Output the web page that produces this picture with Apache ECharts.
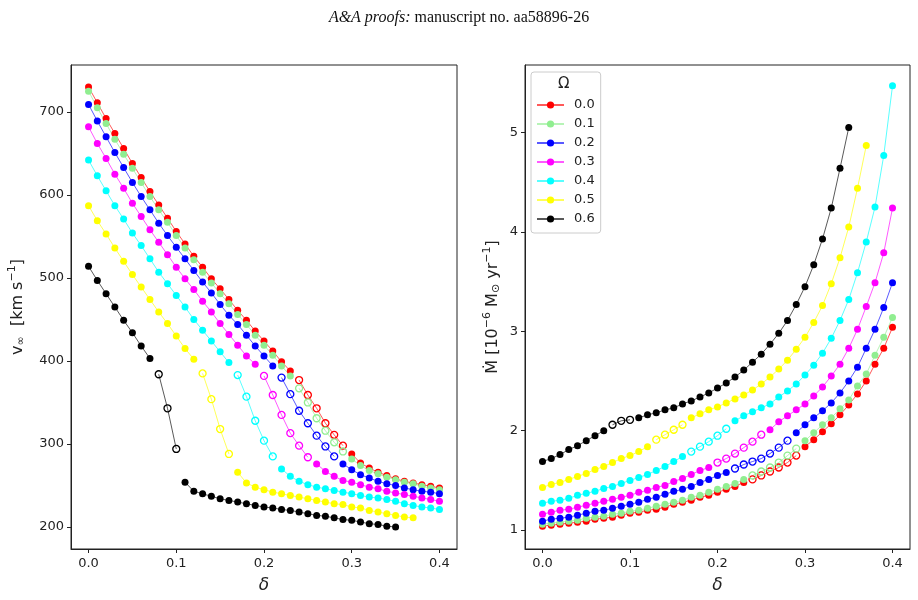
<!DOCTYPE html>
<html>
<head>
<meta charset="utf-8">
<script src="https://cdn.jsdelivr.net/npm/echarts@6/dist/echarts.min.js"></script>
<style>
html, body { margin: 0; padding: 0; background: #fff; }
#chart { width: 918px; height: 600px; }
</style>
</head>
<body>
<div id="chart"></div>
<script>
// delta grid shared by both panels
const delta = [0.00, 0.01, 0.02, 0.03, 0.04, 0.05, 0.06, 0.07, 0.08, 0.09,
    0.10, 0.11, 0.12, 0.13, 0.14, 0.15, 0.16, 0.17, 0.18, 0.19,
    0.20, 0.21, 0.22, 0.23, 0.24, 0.25, 0.26, 0.27, 0.28, 0.29,
    0.30, 0.31, 0.32, 0.33, 0.34, 0.35, 0.36, 0.37, 0.38, 0.39, 0.40]

const omegaLabels = ['0.0', '0.1', '0.2', '0.3', '0.4', '0.5', '0.6']
const colors = ['#ff0000', '#90ee90', '#0000ff', '#ff00ff', '#00ffff', '#ffff00', '#000000']

// index range of the open-circle points for each omega
const openStart = [24, 24, 22, 20, 17, 13, 8]
const openEnd = [29, 29, 28, 25, 21, 16, 10]

// terminal velocity [km/s]
const vinf00 = [730, 711, 692, 674, 656, 638, 621, 604, 588, 572, 556, 541, 526, 513, 499, 487, 474, 461, 449, 436,
    424, 412, 399, 388, 377, 359, 343, 325, 311, 298, 288, 277, 271, 266, 262, 258, 255, 253, 251, 249, 247]
const vinf01 = [725, 705, 686, 667, 649, 632, 615, 598, 582, 567, 551, 536, 522, 507, 494, 481, 469, 456, 444, 431,
    419, 407, 394, 382, 367, 350, 331, 316, 302, 291, 282, 274, 268, 264, 260, 257, 254, 252, 249, 247, 245]
const vinf02 = [709, 689, 670, 651, 633, 615, 598, 582, 566, 551, 537, 523, 509, 495, 482, 468, 455, 444, 431, 418,
    406, 394, 380, 360, 340, 325, 310, 297, 285, 276, 269, 263, 259, 255, 252, 250, 247, 245, 243, 242, 240]
const vinf03 = [682, 662, 644, 625, 608, 590, 574, 558, 543, 528, 513, 499, 486, 472, 459, 445, 432, 419, 406, 396,
    382, 359, 335, 313, 298, 284, 276, 267, 261, 256, 254, 251, 248, 246, 243, 241, 239, 237, 235, 233, 231]
const vinf04 = [642, 623, 605, 587, 571, 554, 539, 523, 507, 493, 479, 465, 450, 437, 424, 411, 398, 383, 357, 328,
    304, 285, 270, 261, 255, 251, 248, 246, 244, 242, 240, 238, 236, 235, 233, 231, 228, 226, 224, 223, 221]
const vinf05 = [587, 569, 553, 536, 520, 504, 489, 474, 459, 445, 430, 415, 402, 385, 354, 318, 288, 266, 253, 248,
    245, 242, 240, 238, 236, 234, 232, 230, 228, 227, 224, 223, 220, 218, 216, 214, 212, 211]
const vinf06 = [514, 497, 481, 465, 449, 434, 418, 403, 384, 343, 294, 254, 243, 240, 237, 234, 232, 230, 228, 226,
    224, 223, 221, 220, 218, 216, 214, 213, 211, 209, 208, 206, 204, 203, 201, 200]

// mass-loss rate [1e-6 Msun/yr]
const mdot00 = [1.04, 1.05, 1.06, 1.07, 1.08, 1.09, 1.11, 1.12, 1.13, 1.15, 1.17, 1.18, 1.20, 1.21, 1.23, 1.26, 1.28, 1.30, 1.33, 1.35,
    1.38, 1.41, 1.44, 1.48, 1.51, 1.55, 1.59, 1.63, 1.68, 1.75, 1.84, 1.91, 1.99, 2.07, 2.16, 2.26, 2.37, 2.50, 2.67, 2.83, 3.04]
const mdot01 = [1.06, 1.07, 1.08, 1.09, 1.10, 1.12, 1.13, 1.14, 1.16, 1.17, 1.19, 1.20, 1.22, 1.24, 1.26, 1.28, 1.30, 1.33, 1.35, 1.38,
    1.41, 1.44, 1.47, 1.51, 1.55, 1.59, 1.63, 1.68, 1.75, 1.82, 1.90, 1.98, 2.06, 2.13, 2.22, 2.31, 2.45, 2.57, 2.76, 2.94, 3.14]
const mdot02 = [1.09, 1.11, 1.12, 1.13, 1.15, 1.17, 1.19, 1.20, 1.22, 1.24, 1.26, 1.28, 1.31, 1.33, 1.36, 1.39, 1.41, 1.44, 1.48, 1.51,
    1.55, 1.58, 1.62, 1.66, 1.69, 1.72, 1.77, 1.83, 1.90, 1.98, 2.06, 2.13, 2.20, 2.28, 2.38, 2.50, 2.64, 2.83, 3.02, 3.24, 3.49]
const mdot03 = [1.16, 1.18, 1.20, 1.21, 1.23, 1.25, 1.27, 1.29, 1.31, 1.33, 1.35, 1.38, 1.40, 1.43, 1.45, 1.49, 1.52, 1.56, 1.60, 1.63,
    1.68, 1.72, 1.77, 1.83, 1.89, 1.96, 2.01, 2.09, 2.15, 2.21, 2.27, 2.35, 2.44, 2.55, 2.67, 2.83, 3.02, 3.25, 3.49, 3.79, 4.24]
const mdot04 = [1.27, 1.29, 1.30, 1.32, 1.35, 1.37, 1.39, 1.42, 1.44, 1.47, 1.50, 1.53, 1.56, 1.60, 1.64, 1.69, 1.74, 1.79, 1.84, 1.89,
    1.95, 2.02, 2.10, 2.15, 2.19, 2.23, 2.27, 2.34, 2.40, 2.47, 2.56, 2.66, 2.78, 2.93, 3.11, 3.32, 3.59, 3.90, 4.25, 4.77, 5.47]
const mdot05 = [1.43, 1.46, 1.48, 1.51, 1.54, 1.57, 1.61, 1.64, 1.68, 1.72, 1.75, 1.79, 1.84, 1.91, 1.96, 2.01, 2.06, 2.13, 2.17, 2.21,
    2.24, 2.28, 2.32, 2.36, 2.41, 2.47, 2.54, 2.62, 2.71, 2.82, 2.94, 3.09, 3.26, 3.48, 3.74, 4.05, 4.44, 4.87]
const mdot06 = [1.69, 1.72, 1.76, 1.81, 1.85, 1.90, 1.95, 2.00, 2.06, 2.10, 2.11, 2.13, 2.16, 2.18, 2.21, 2.23, 2.27, 2.30, 2.34, 2.38,
    2.43, 2.48, 2.54, 2.61, 2.69, 2.77, 2.87, 2.98, 3.11, 3.27, 3.45, 3.67, 3.93, 4.24, 4.64, 5.05]

const xTicks = [0, 0.1, 0.2, 0.3, 0.4]
const vTicks = [200, 300, 400, 500, 600, 700]
const mTicks = [1, 2, 3, 4, 5]

const vinfSets = [vinf00, vinf01, vinf02, vinf03, vinf04, vinf05, vinf06]
const mdotSets = [mdot00, mdot01, mdot02, mdot03, mdot04, mdot05, mdot06]

const FONT = 'DejaVu Sans'
const INK = '#222'

// each curve is cut in three pieces: filled / open / filled, not joined to each other
const buildSeries = (values, k, panel) => {
    const pieces = [
        [0, openStart[k] - 1, false],
        [openStart[k], openEnd[k], true],
        [openEnd[k] + 1, values.length - 1, false]
    ]
    return pieces.map(([a, b, open]) => ({
        name: omegaLabels[k],
        type: 'line',
        xAxisIndex: panel,
        yAxisIndex: panel,
        data: values.slice(a, b + 1).map((v, j) => [delta[a + j], v]),
        symbol: 'circle',
        symbolSize: 7,
        showSymbol: true,
        silent: true,
        lineStyle: { color: colors[k], width: 1, opacity: 0.65 },
        itemStyle: open
            ? { color: 'rgba(255,255,255,0)', borderColor: colors[k], borderWidth: 1.3 }
            : { color: colors[k] },
        emphasis: { disabled: true }
    }))
}

const series = []
for (let k = 0; k < 7; k++) series.push(...buildSeries(vinfSets[k], k, 0))
for (let k = 0; k < 7; k++) series.push(...buildSeries(mdotSets[k], k, 1))

const nameRich = {
    sup: { fontFamily: FONT, fontSize: 11, color: INK, padding: [0, 0, 10, 0] },
    sub: { fontFamily: FONT, fontSize: 11, color: INK, padding: [8, 0, 0, 0] }
}

const xAxisCfg = (idx) => ({
    gridIndex: idx,
    type: 'value',
    min: -0.02,
    max: 0.42,
    name: 'δ',
    nameLocation: 'middle',
    nameGap: 28,
    nameTextStyle: { fontFamily: FONT, fontSize: 17, fontStyle: 'italic', color: INK },
    axisLine: { show: true, onZero: false, lineStyle: { color: INK, width: 1 } },
    axisTick: { show: true, customValues: xTicks, length: 4, lineStyle: { color: INK } },
    axisLabel: {
        customValues: xTicks,
        formatter: v => v.toFixed(1),
        fontFamily: FONT, fontSize: 13, color: INK, margin: 8
    },
    splitLine: { show: false }
})

const yAxisCfg = (idx, min, max, ticks, name, gap) => ({
    gridIndex: idx,
    type: 'value',
    min: min,
    max: max,
    name: name,
    nameLocation: 'middle',
    nameGap: gap,
    nameTextStyle: { fontFamily: FONT, fontSize: 16, color: INK, rich: nameRich },
    axisLine: { show: true, onZero: false, lineStyle: { color: INK, width: 1 } },
    axisTick: { show: true, customValues: ticks, length: 4, lineStyle: { color: INK } },
    axisLabel: { customValues: ticks, fontFamily: FONT, fontSize: 13, color: INK, margin: 7 },
    splitLine: { show: false }
})

const chart = echarts.init(document.getElementById('chart'))
chart.setOption({
    animation: false,
    backgroundColor: '#fff',
    title: {
        left: 'center',
        top: 5,
        text: '{i|A&A proofs:} manuscript no. aa58896-26',
        textStyle: {
            fontFamily: 'Liberation Serif', fontSize: 16, fontWeight: 'normal', color: '#111',
            rich: { i: { fontFamily: 'Liberation Serif', fontSize: 16, fontStyle: 'italic', color: '#111' } }
        }
    },
    grid: [
        { left: 71, top: 65, width: 386, height: 484, show: true, borderColor: INK, borderWidth: 1 },
        { left: 525, top: 65, width: 385, height: 484, show: true, borderColor: INK, borderWidth: 1 }
    ],
    xAxis: [xAxisCfg(0), xAxisCfg(1)],
    yAxis: [
        yAxisCfg(0, 173.5, 756.5, vTicks, 'v{sub|∞}  [km s{sup|−1}]', 43),
        yAxisCfg(1, 0.81, 5.68, mTicks, 'Ṁ [10{sup|−6} M{sub|⊙} yr{sup|−1}]', 22)
    ],
    legend: {
        data: omegaLabels,
        orient: 'vertical',
        left: 531,
        top: 72,
        padding: [26, 6, 7, 5],
        itemWidth: 27,
        itemHeight: 9,
        itemGap: 5,
        backgroundColor: 'rgba(255,255,255,0.8)',
        borderColor: '#cccccc',
        borderWidth: 1,
        borderRadius: 3,
        selectedMode: false,
        textStyle: { fontFamily: FONT, fontSize: 13, lineHeight: 14, color: INK, padding: [0, 0, 0, 5] }
    },
    graphic: [
        {
            type: 'text',
            left: 558,
            top: 77,
            z: 100,
            style: { text: 'Ω', font: '15px "DejaVu Sans"', fill: INK }
        }
    ],
    series: series
})
</script>
</body>
</html>
